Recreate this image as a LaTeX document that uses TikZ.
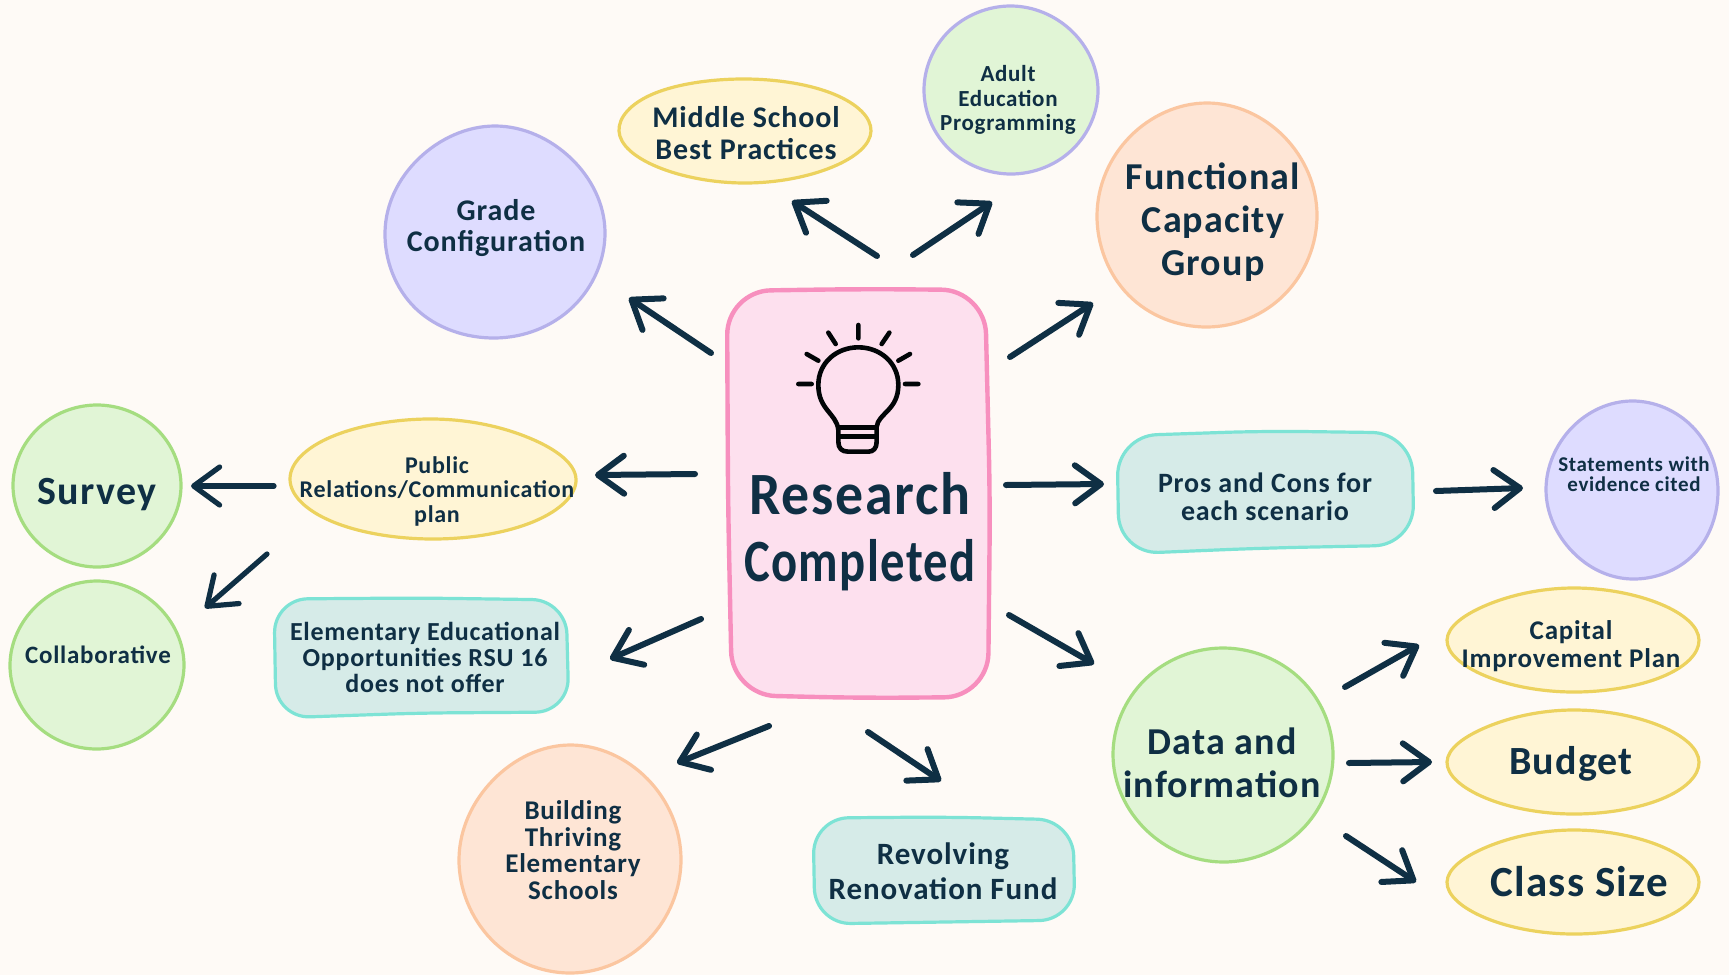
\documentclass[tikz,border=0pt]{standalone}
\usepackage{fontspec}
\usetikzlibrary{arrows.meta}
\newfontfamily\hand[LetterSpace=3,BoldFont={Carlito Bold}]{Carlito}
\definecolor{bg}{HTML}{FEFAF6}
\definecolor{ink}{HTML}{0F2F44}
\definecolor{pinkf}{HTML}{FDE0EE}\definecolor{pinkd}{HTML}{F78FBE}
\definecolor{purf}{HTML}{DEDCFF}\definecolor{purd}{HTML}{B5B0EA}
\definecolor{yelf}{HTML}{FFF5D5}\definecolor{yeld}{HTML}{ECD25E}
\definecolor{grnf}{HTML}{E1F5D6}\definecolor{grnd}{HTML}{A5DD80}
\definecolor{pchf}{HTML}{FEE5D5}\definecolor{pchd}{HTML}{FBC6A0}
\definecolor{tealf}{HTML}{D6EBE8}\definecolor{teald}{HTML}{7DE3D5}
\tikzset{
  pinkb/.style={fill=pinkf,draw=pinkd,line width=2.2pt},
  purb/.style={fill=purf,draw=purd,line width=1.6pt},
  yelb/.style={fill=yelf,draw=yeld,line width=1.6pt},
  grnb/.style={fill=grnf,draw=grnd,line width=1.6pt},
  grnpurb/.style={fill=grnf,draw=purd,line width=1.6pt},
  pchb/.style={fill=pchf,draw=pchd,line width=1.6pt},
  tealb/.style={fill=tealf,draw=teald,line width=1.6pt},
  lab/.style={text=ink,align=center,inner sep=0pt},
  arr/.style={draw=ink,line width=3pt,line cap=round,line join=round,
    -{Straight Barb[length=13pt,width=19pt,round]}},
  thinarr/.style={arr,line width=2.6pt},
  bulb/.style={draw=black!90!ink,line width=2.3pt,line cap=round,line join=round},
}
\newcommand{\blobshape}[6]{%
  \begin{scope}[shift={(#2,#3)},xscale=#4,yscale=#5]
    \draw[#1] plot[smooth cycle,tension=.67] coordinates {#6};
  \end{scope}}
\newcommand{\fs}[2][1.05]{\hand\bfseries\fontsize{#2}{0}\selectfont\baselineskip=#1\dimexpr #2pt\relax}
\begin{document}
\begin{tikzpicture}[x=.5pt,y=-.5pt]
\useasboundingbox (0,0) rectangle (1729,975);
\fill[bg] (0,0) rectangle (1729,975);
% shapes
\draw[pinkb,rounded corners=22pt] (860,289)--(985,290)--(990,500)--(988,697)--(860,698)--(732,695)--(728,500)--(727,291)--cycle;
\blobshape{purb}{495}{232}{110}{106}{(0:1)(45:1)(90:1)(135:1.02)(180:1)(225:.98)(270:1)(315:.98)}
\blobshape{yelb}{745}{131}{126}{52}{(0:1)(45:.98)(90:1)(135:.98)(180:1)(225:1.02)(270:1)(315:1)}
\blobshape{grnpurb}{1011}{90}{87}{84}{(0:1)(45:1)(90:1)(135:1)(180:1)(225:1)(270:1)(315:.99)}
\blobshape{pchb}{1207}{215}{110}{112}{(0:1)(45:1)(90:1)(135:1.01)(180:1)(225:.99)(270:1)(315:.99)}
\draw[tealb,rounded corners=20pt] (1265,431)--(1412,433)--(1414,545)--(1265,548)--(1119,554)--(1117,436)--cycle;
\blobshape{purb}{1632}{490}{86}{89}{(0:1)(45:1.02)(90:1)(135:.98)(180:1)(225:.99)(270:1)(315:1)}
\blobshape{yelb}{1573}{640}{126}{52}{(0:1)(45:1)(90:1)(135:.98)(180:1)(225:.96)(270:1)(315:.98)}
\blobshape{yelb}{1573}{762}{126}{52}{(0:1)(45:1)(90:1)(135:.98)(180:1)(225:.96)(270:1)(315:.98)}
\blobshape{yelb}{1573}{882}{126}{52}{(0:1)(45:1)(90:1)(135:.98)(180:1)(225:.96)(270:1)(315:.98)}
\blobshape{grnb}{1223}{755}{110}{107}{(0:1)(45:1)(90:1)(135:.99)(180:1)(225:1)(270:1)(315:1)}
\draw[tealb,rounded corners=18pt] (945,817)--(1073,820)--(1075,920)--(945,922)--(815,924)--(813,818)--cycle;
\blobshape{pchb}{570}{859}{111}{114}{(0:1)(45:1)(90:1)(135:1)(180:1)(225:.98)(270:1)(315:.99)}
\draw[tealb,rounded corners=17pt] (420,598)--(566,600)--(569,712)--(420,713)--(276,718)--(274,599)--cycle;
\blobshape{yelb}{433}{479}{143}{60}{(0:1)(45:1)(90:1)(135:1)(180:1)(225:1)(270:1)(315:.96)}
\blobshape{grnb}{97}{486}{84}{81}{(0:1)(45:.99)(90:1)(135:.99)(180:1)(225:1)(270:1)(315:1)}
\blobshape{grnb}{97}{665}{87}{84}{(0:1)(45:.99)(90:1)(135:1)(180:1)(225:.99)(270:1)(315:.99)}
% bulb
\begin{scope}[shift={(700,270)},x=.16667pt,y=-.16667pt]
\draw[bulb] (415,480) .. controls (410,430) and (355,420) .. (355,345)
  .. controls (355,278) and (410,232) .. (475,232)
  .. controls (540,232) and (595,278) .. (595,345)
  .. controls (595,420) and (535,430) .. (530,470)
  -- (530,515) .. controls (530,535) and (520,545) .. (505,545)
  -- (445,545) .. controls (425,545) and (415,535) .. (415,515) -- cycle;
\draw[bulb] (415,472)--(530,472) (415,500)--(530,500);
\draw[bulb] (475,165)--(475,205) (385,188)--(407,222) (568,188)--(545,222)
  (320,252)--(355,272) (630,252)--(595,272) (295,342)--(335,342) (615,342)--(655,342);
\end{scope}
% labels
\node[lab,font={\fs[1.12]{30}}] (research) at (860,532) {\scalebox{.93}[1]{Research}\\\scalebox{.81}[1]{Completed}};
\node[lab,font=\fs{15}] (grade) at (496,228) {Grade\\Configuration};
\node[lab,font=\fs{15}] (middle) at (746,133) {Middle School\\Best Practices};
\node[lab,font={\fs[1.08]{11.5}}] (adult) at (1008,100) {Adult\\Education\\Programming};
\node[lab,font={\fs[1.13]{19}}] (func) at (1213,222) {Functional\\Capacity\\Group};
\node[lab,font={\fs[1]{14}}] (pros) at (1265,497) {Pros and Cons for\\each scenario};
\node[lab,font={\fs[.95]{10.5}}] (state) at (1634,474) {Statements with\\evidence cited};
\node[lab,font={\fs[1.03]{13.5}}] (capital) at (1571,646) {Capital\\Improvement Plan};
\node[lab,font=\fs{20}] (budget) at (1571,764) {Budget};
\node[lab,font=\fs{21.5}] (class) at (1579,882) {Class Size};
\node[lab,font={\fs[1.14]{19}}] (data) at (1222,763) {Data and\\information};
\node[lab,font={\fs[1.13]{15.5}}] (revolve) at (943,871) {Revolving\\Renovation Fund};
\node[lab,font={\fs[.98]{13.5}}] (build) at (573,850) {Building\\Thriving\\Elementary\\Schools};
\node[lab,font={\fs[1]{13}}] (elem) at (425,657) {Elementary Educational\\Opportunities RSU 16\\does not offer};
\node[lab,font={\fs[1.02]{12}}] (public) at (437,491) {Public\\Relations/Communication\\plan};
\node[lab,font=\fs{20}] (survey) at (97,495) {Survey};
\node[lab,font=\fs{12.5}] (collab) at (98,655) {Collaborative};
% connector ends
\coordinate (a1) at (711,353);\coordinate (b1) at (629,298);
\coordinate (a2) at (877,256);\coordinate (b2) at (792,201);
\coordinate (a3) at (913,255);\coordinate (b3) at (992,202);
\coordinate (a4) at (1010,357);\coordinate (b4) at (1093,303);
\coordinate (a5) at (1006,485);\coordinate (b5) at (1104,484);
\coordinate (a6) at (1436,491);\coordinate (b6) at (1523,488);
\coordinate (a7) at (1009,615);\coordinate (b7) at (1094,664);
\coordinate (a8) at (1345,687);\coordinate (b8) at (1419,645);
\coordinate (a9) at (1349,763);\coordinate (b9) at (1432,762);
\coordinate (a10) at (1346,836);\coordinate (b10) at (1416,882);
\coordinate (a11) at (868,732);\coordinate (b11) at (941,781);
\coordinate (a12) at (769,726);\coordinate (b12) at (677,763);
\coordinate (a13) at (701,619);\coordinate (b13) at (610,659);
\coordinate (a14) at (695,474);\coordinate (b14) at (595,475);
\coordinate (a15) at (274,486);\coordinate (b15) at (191,486);
\coordinate (a16) at (267,554);\coordinate (b16) at (205,608);
\foreach \i in {1,2,3,4,5,6,7,8,9,10,11,12,13,14}{\draw[arr] (a\i) -- (b\i);}
\draw[thinarr] (a15) -- (b15);
\draw[thinarr] (a16) -- (b16);
\end{tikzpicture}
\end{document}
